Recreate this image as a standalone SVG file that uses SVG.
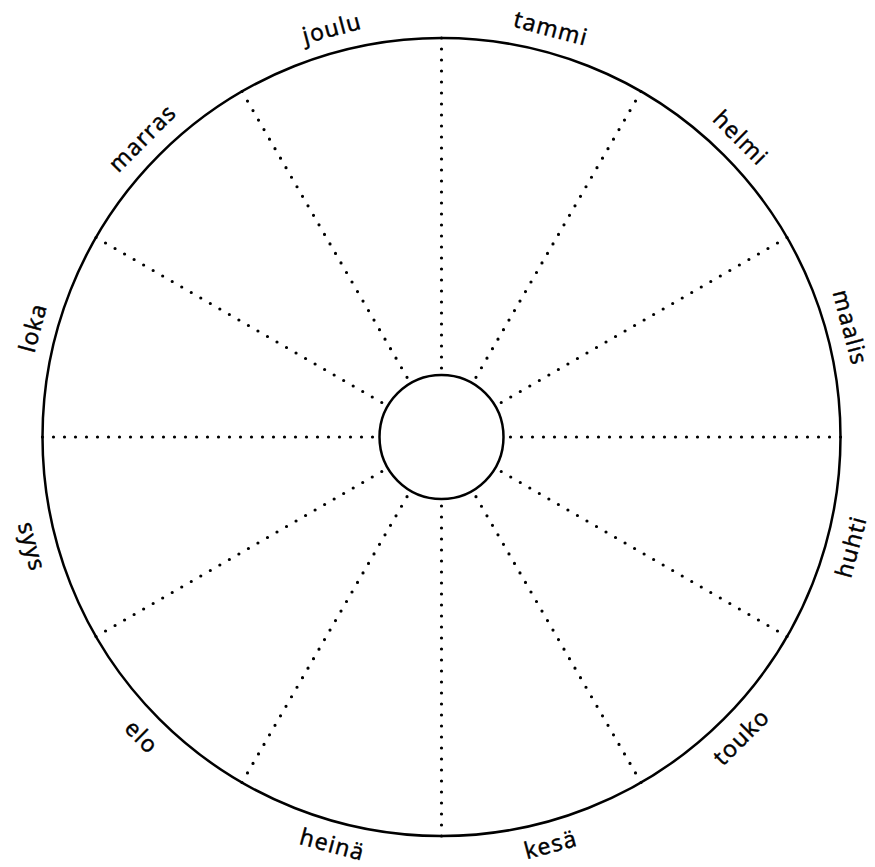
<svg xmlns="http://www.w3.org/2000/svg" width="875" height="867" viewBox="0 0 875 867">
<style>
.ring{fill:none;stroke:#000;stroke-width:2.5}
.hub{fill:#fff;stroke:#000;stroke-width:2.5}
.spoke{stroke:#000;stroke-width:3.2;stroke-linecap:round;stroke-dasharray:0 11}
.lbl{font-family:"Open Sans","Liberation Sans",sans-serif;font-size:23px;letter-spacing:1.3px;fill:#000;stroke:#000;stroke-width:0.5;text-anchor:middle;dominant-baseline:central}
</style>
<rect width="875" height="867" fill="#fff"/>
<g id="outer"><circle class="ring" cx="441.5" cy="437" r="399"/></g>
<g id="connectors">
<line class="spoke" x1="441.5" y1="38" x2="441.5" y2="375"/>
<line class="spoke" x1="641" y1="91.5" x2="472.5" y2="383.3"/>
<line class="spoke" x1="787" y1="237.5" x2="495.2" y2="406"/>
<line class="spoke" x1="840.5" y1="437" x2="503.5" y2="437"/>
<line class="spoke" x1="787" y1="636.5" x2="495.2" y2="468"/>
<line class="spoke" x1="641" y1="782.5" x2="472.5" y2="490.7"/>
<line class="spoke" x1="441.5" y1="836" x2="441.5" y2="499"/>
<line class="spoke" x1="242" y1="782.5" x2="410.5" y2="490.7"/>
<line class="spoke" x1="96" y1="636.5" x2="387.8" y2="468"/>
<line class="spoke" x1="42.5" y1="437" x2="379.5" y2="437"/>
<line class="spoke" x1="96" y1="237.5" x2="387.8" y2="406"/>
<line class="spoke" x1="242" y1="91.5" x2="410.5" y2="383.3"/>
</g>
<g id="hub"><circle class="hub" cx="441.5" cy="437" r="62"/></g>
<g id="labels">
<g id="tammi"><text class="lbl" transform="translate(551.2,27.4) rotate(15)">tammi</text></g>
<g id="helmi"><text class="lbl" transform="translate(741.3,137.2) rotate(45)">helmi</text></g>
<g id="maalis"><text class="lbl" transform="translate(851.1,327.3) rotate(75)">maalis</text></g>
<g id="huhti"><text class="lbl" transform="translate(850.1,546.4) rotate(-75)">huhti</text></g>
<g id="touko"><text class="lbl" transform="translate(740.6,736.1) rotate(-45)">touko</text></g>
<g id="kesa"><text class="lbl" transform="translate(550.4,843.7) rotate(-15)">kesä</text></g>
<g id="heina"><text class="lbl" transform="translate(332.6,843.7) rotate(15)">heinä</text></g>
<g id="elo"><text class="lbl" transform="translate(142.4,736.1) rotate(45)">elo</text></g>
<g id="syys"><text class="lbl" transform="translate(32.9,546.4) rotate(75)">syys</text></g>
<g id="loka"><text class="lbl" transform="translate(31.9,327.3) rotate(-75)">loka</text></g>
<g id="marras"><text class="lbl" transform="translate(141.7,137.2) rotate(-45)">marras</text></g>
<g id="joulu"><text class="lbl" transform="translate(331.8,27.4) rotate(-15)">joulu</text></g>
</g>
</svg>
